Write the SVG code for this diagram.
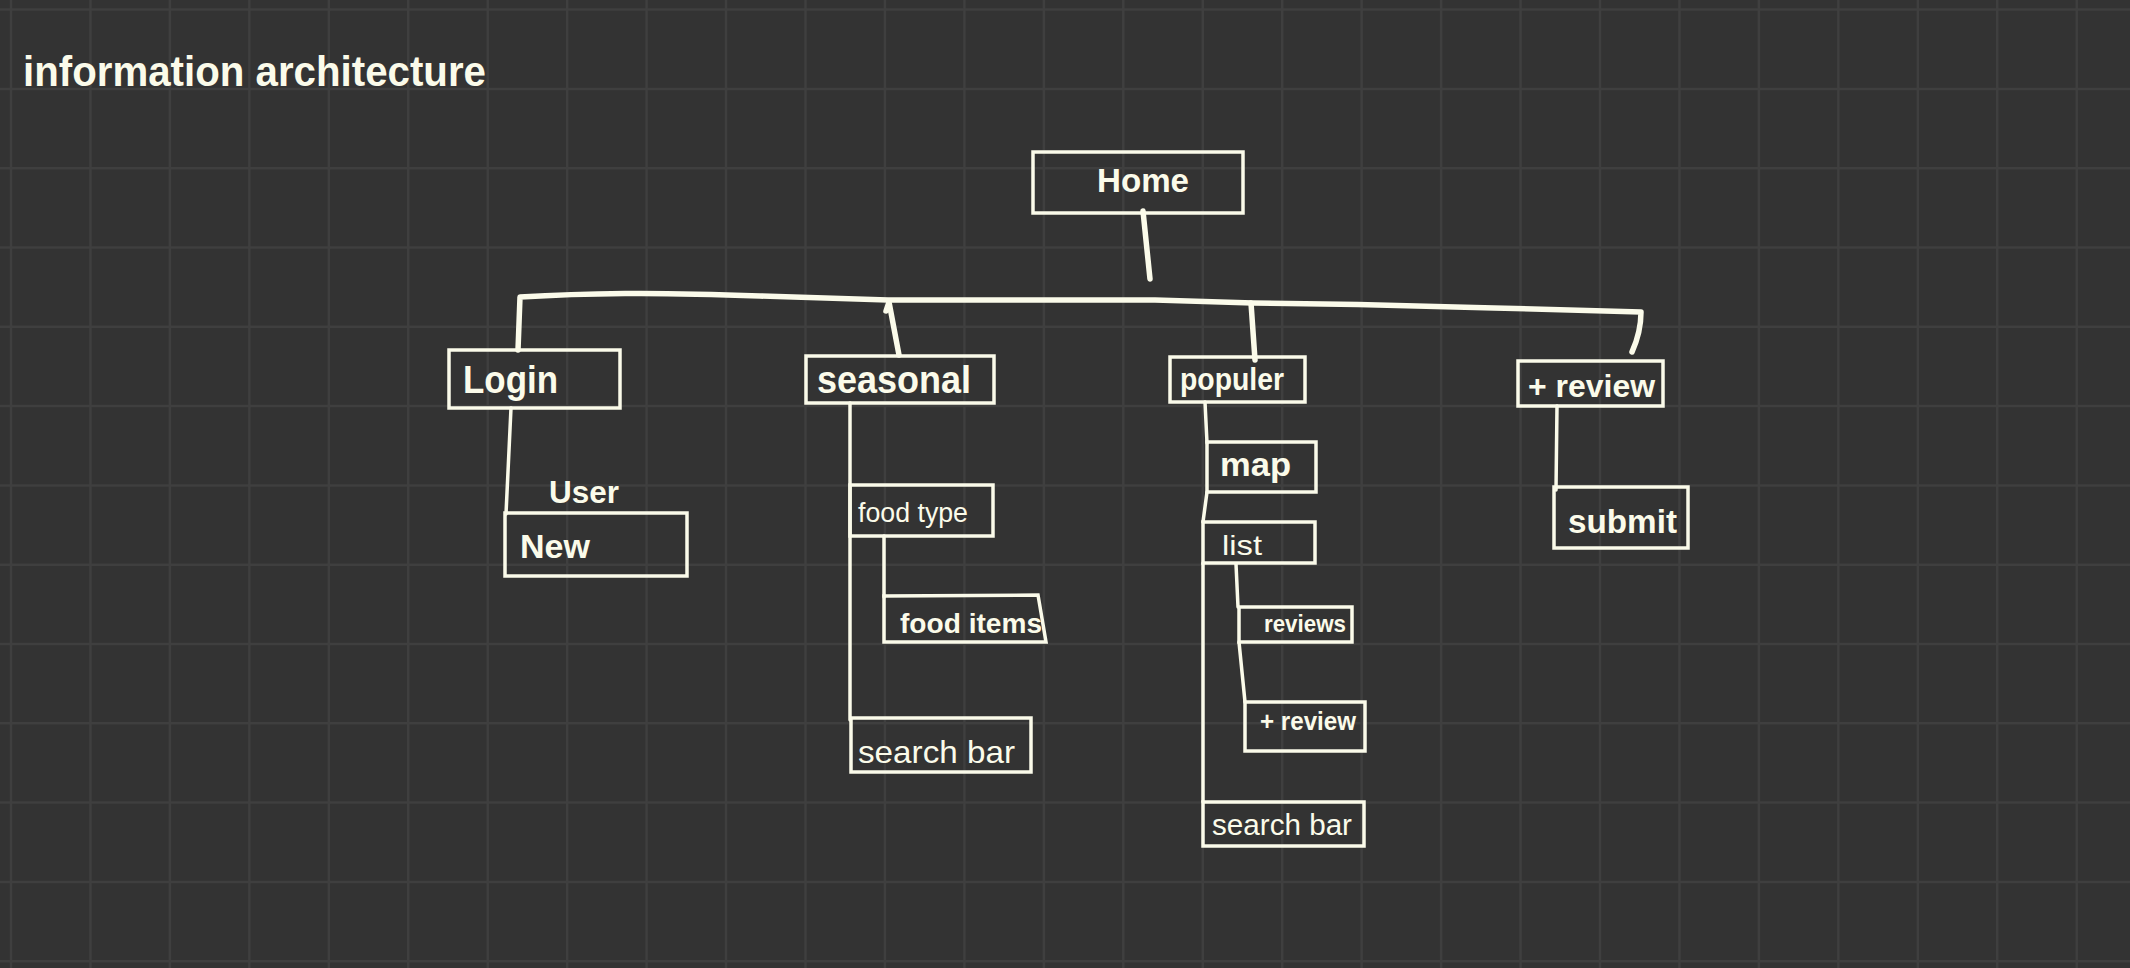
<svg xmlns="http://www.w3.org/2000/svg" width="2130" height="968" viewBox="0 0 2130 968">
<style>
.bg{fill:#333333}
.grid{stroke:#3f3f3f;stroke-width:2.5;fill:none}
.box{fill:none;stroke:#fbfbea;stroke-width:3.5;stroke-linejoin:miter}
.lbl{fill:#fbfbea;font-family:"Liberation Sans",Arial,sans-serif}
.b{font-weight:bold}
.con{fill:none;stroke:#fbfbea;stroke-linecap:round;stroke-linejoin:round}
.thick{stroke-width:5.5}
.thin{stroke-width:3.5}
</style>
<rect class="bg" x="0" y="0" width="2130" height="968"/>
<path class="grid" d="M11 0V968M90.45 0V968M169.9 0V968M249.35 0V968M328.8 0V968M408.25 0V968M487.7 0V968M567.15 0V968M646.6 0V968M726.05 0V968M805.5 0V968M884.95 0V968M964.4 0V968M1043.85 0V968M1123.3 0V968M1202.75 0V968M1282.2 0V968M1361.65 0V968M1441.1 0V968M1520.55 0V968M1600 0V968M1679.45 0V968M1758.9 0V968M1838.35 0V968M1917.8 0V968M1997.25 0V968M2076.7 0V968M0 9.6H2130M0 88.9H2130M0 168.2H2130M0 247.5H2130M0 326.8H2130M0 406.1H2130M0 485.4H2130M0 564.7H2130M0 644H2130M0 723.3H2130M0 802.6H2130M0 881.9H2130M0 961.2H2130"/>
<text id="title" class="lbl b" x="23" y="86" font-size="42" textLength="463" lengthAdjust="spacingAndGlyphs">information architecture</text>
<g id="connectors">
<path class="con thick" d="M1143 211 L1150 279"/>
<path class="con thick" d="M518 350 L520 297 Q570 294 625 293.5 T760 296 L888 300 L1155 300 L1253 303 L1358 304.5 L1494 308 L1641 312 Q1641 332 1632 352"/>
<path class="con thick" d="M899 355 L889 302 L886 311"/>
<path class="con thick" d="M1255 360 L1251 303"/>
<path class="con thin" d="M511 408 L506 514"/>
<path class="con thin" d="M850 403 L850 720"/>
<path class="con thin" d="M884 536 L884 597"/>
<path class="con thin" d="M1205 402 L1207 443"/>
<path class="con thin" d="M1207 492 L1203 522"/>
<path class="con thin" d="M1203 563 L1203 802"/>
<path class="con thin" d="M1236 564 L1238 607"/>
<path class="con thin" d="M1239 642 L1245 702"/>
<path class="con thin" d="M1557 406 L1556 490"/>
</g>
<g id="home"><rect class="box" x="1033" y="152" width="210" height="61"/><text class="lbl b" x="1097" y="192" font-size="34" textLength="92" lengthAdjust="spacingAndGlyphs">Home</text></g>
<g id="login"><rect class="box" x="449" y="350" width="171" height="58"/><text class="lbl b" x="463" y="393" font-size="38" textLength="95" lengthAdjust="spacingAndGlyphs">Login</text></g>
<g id="user-label"><text class="lbl b" x="549" y="503" font-size="32" textLength="70" lengthAdjust="spacingAndGlyphs">User</text></g>
<g id="new"><rect class="box" x="505" y="513" width="182" height="63"/><text class="lbl b" x="520" y="558" font-size="34" textLength="70" lengthAdjust="spacingAndGlyphs">New</text></g>
<g id="seasonal"><rect class="box" x="806" y="356" width="188" height="47"/><text class="lbl b" x="817" y="393" font-size="38" textLength="154" lengthAdjust="spacingAndGlyphs">seasonal</text></g>
<g id="food-type"><rect class="box" x="850" y="485" width="143" height="51"/><text class="lbl" x="858" y="522" font-size="27" textLength="110" lengthAdjust="spacingAndGlyphs">food type</text></g>
<g id="food-items"><path class="box" d="M884 596 L1038 595 L1046 642 L884 642 Z"/><text class="lbl b" x="900" y="633" font-size="28" textLength="142" lengthAdjust="spacingAndGlyphs">food items</text></g>
<g id="search-bar-1"><rect class="box" x="851" y="718" width="180" height="54"/><text class="lbl" x="858" y="763" font-size="32" textLength="157" lengthAdjust="spacingAndGlyphs">search bar</text></g>
<g id="populer"><rect class="box" x="1170" y="357" width="135" height="45"/><text class="lbl b" x="1180" y="390" font-size="32" textLength="104" lengthAdjust="spacingAndGlyphs">populer</text></g>
<g id="map"><rect class="box" x="1207" y="442" width="109" height="50"/><text class="lbl b" x="1220" y="476" font-size="34" textLength="71" lengthAdjust="spacingAndGlyphs">map</text></g>
<g id="list"><rect class="box" x="1203" y="522" width="112" height="41"/><text class="lbl" x="1222" y="555" font-size="28" textLength="40" lengthAdjust="spacingAndGlyphs">list</text></g>
<g id="reviews"><rect class="box" x="1239" y="607" width="113" height="35"/><text class="lbl b" x="1264" y="632" font-size="24" textLength="82" lengthAdjust="spacingAndGlyphs">reviews</text></g>
<g id="add-review-2"><rect class="box" x="1245" y="702" width="120" height="49"/><text class="lbl b" x="1260" y="730" font-size="26" textLength="96" lengthAdjust="spacingAndGlyphs">+ review</text></g>
<g id="search-bar-2"><rect class="box" x="1203" y="802" width="161" height="44"/><text class="lbl" x="1212" y="835" font-size="30" textLength="140" lengthAdjust="spacingAndGlyphs">search bar</text></g>
<g id="add-review"><rect class="box" x="1518" y="361" width="145" height="45"/><text class="lbl b" x="1528" y="397" font-size="32" textLength="127" lengthAdjust="spacingAndGlyphs">+ review</text></g>
<g id="submit"><rect class="box" x="1554" y="487" width="134" height="61"/><text class="lbl b" x="1568" y="533" font-size="34" textLength="109" lengthAdjust="spacingAndGlyphs">submit</text></g>
</svg>
